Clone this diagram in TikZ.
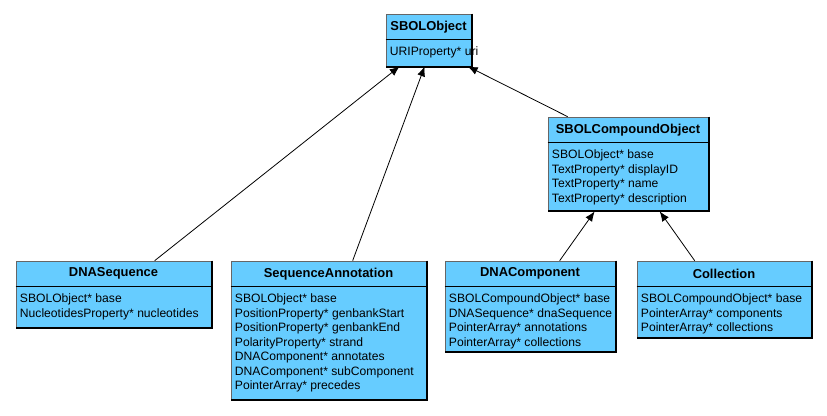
\documentclass[tikz,border=0pt]{standalone}
\usepackage{fontspec}
\setmainfont{Liberation Sans}
\usetikzlibrary{fit,calc,arrows.meta}
\definecolor{classfill}{HTML}{66CCFF}
\tikzset{
  classbox/.style={fill=classfill, draw=gray!80!black, line width=0.5pt, inner sep=0pt, rectangle},
  classhead/.style={font=\fontsize{9.7}{11}\selectfont\bfseries, inner sep=0pt},
  classattr/.style={font=\fontsize{9.1}{11}\selectfont, inner sep=0pt, anchor=base west},
  gen/.style={line width=0.6pt, -{Latex[length=7.5pt,width=6pt]}}
}
\newcommand{\umlclass}[7]{%
  \node[classbox, fit={(#2,#3) (#4,#5)}] (#1) {};
  \draw[line width=1.1pt] ([xshift=0.4pt]#1.north east) -- ([xshift=0.4pt,yshift=-0.4pt]#1.south east) -- ([yshift=-0.4pt]#1.south west);
  \draw[line width=0.8pt] ([yshift=-19.5pt]#1.north west) -- ([yshift=-19.5pt]#1.north east);
  \node[classhead] (#1-head) at ($(#1.north)+(0,13)$) {#6};
  \foreach \a [count=\i] in {#7} {
    \node[classattr] (#1-attr\i) at ($(#1.north west)+(4,26+16+14.5*\i-14.5)$) {\a};
  }
}
\begin{document}
\begin{tikzpicture}[x=0.75pt,y=-0.75pt]
\useasboundingbox (0,0) rectangle (827,415);
\umlclass{obj}{386}{14}{471}{66}{SBOLObject}{URIProperty* uri}
\umlclass{comp}{548}{117}{708}{210}{SBOLCompoundObject}{SBOLObject* base,TextProperty* displayID,TextProperty* name,TextProperty* description}
\umlclass{dnaseq}{16}{261}{211}{327}{DNASequence}{SBOLObject* base,NucleotidesProperty* nucleotides}
\umlclass{seqann}{231}{261}{426}{399}{SequenceAnnotation}{SBOLObject* base,PositionProperty* genbankStart,PositionProperty* genbankEnd,PolarityProperty* strand,DNAComponent* annotates,DNAComponent* subComponent,PointerArray* precedes}
\umlclass{dnacomp}{445}{261}{615}{351}{DNAComponent}{SBOLCompoundObject* base,DNASequence* dnaSequence,PointerArray* annotations,PointerArray* collections}
\umlclass{coll}{637}{261}{811}{337}{Collection}{SBOLCompoundObject* base,PointerArray* components,PointerArray* collections}
\draw[gen] ($(dnaseq.north west)+(139,0)$) -- ($(obj.south west)+(14,0)$);
\draw[gen] ($(seqann.north west)+(122,0)$) -- ($(obj.south west)+(39,0)$);
\draw[gen] ($(comp.north west)+(20,0)$) -- ($(obj.south west)+(82,0)$);
\draw[gen] ($(dnacomp.north west)+(115,0)$) -- ($(comp.south west)+(47,1)$);
\draw[gen] ($(coll.north west)+(58,0)$) -- ($(comp.south west)+(112,1)$);
\end{tikzpicture}
\end{document}
